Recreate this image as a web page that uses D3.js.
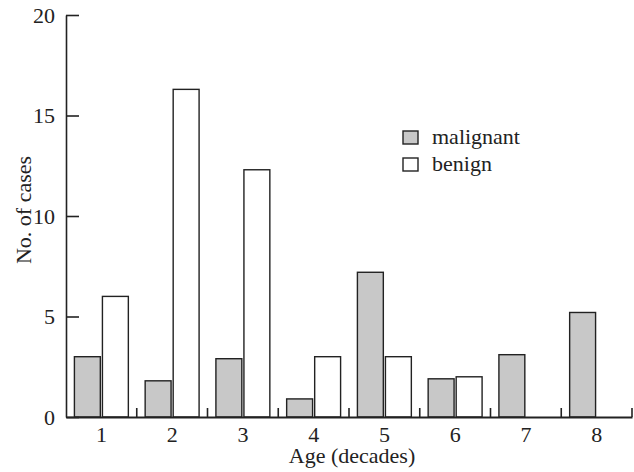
<!DOCTYPE html>
<html>
<head>
<meta charset="utf-8">
<script src="https://cdn.jsdelivr.net/npm/d3@7"></script>
<style>
  html, body { margin: 0; padding: 0; background: #fff; }
</style>
</head>
<body>
<svg id="chart" width="634" height="472"></svg>
<script>
const categories = ["1", "2", "3", "4", "5", "6", "7", "8"];
const malignant = [3, 1.8, 2.9, 0.9, 7.2, 1.9, 3.1, 5.2];
const benign = [6, 16.3, 12.3, 3, 3, 2, 0, 0];
const yTicks = [0, 5, 10, 15, 20];
const seriesNames = ["malignant", "benign"];
const seriesColors = ["#c8c8c8", "#ffffff"];

(function () {
const FONT = '"Liberation Serif"';
const FS = "22px";
const txt = "#222";
const svg = d3.select("#chart");
const mLeft = 66, mRight = 632, mTop = 15, mBottom = 417;

const x = d3.scaleBand().domain(categories).range([mLeft, mRight]).padding(0);
const xInner = d3.scaleBand().domain(seriesNames).range([0, x.bandwidth()]).paddingInner(0.075).paddingOuter(0.3);
const y = d3.scaleLinear().domain([0, 20]).range([mBottom, mTop]);

const stroke = "#222";

// bars
const groups = svg.append("g").selectAll("g").data(categories).join("g")
  .attr("transform", d => `translate(${x(d)},0)`);
groups.selectAll("rect").data((d, i) => [
    {s: "malignant", v: malignant[i], c: seriesColors[0]},
    {s: "benign", v: benign[i], c: seriesColors[1]}
  ]).join("rect")
  .attr("x", d => xInner(d.s))
  .attr("width", xInner.bandwidth())
  .attr("y", d => y(d.v))
  .attr("height", d => y(0) - y(d.v))
  .attr("fill", d => d.c)
  .attr("stroke", stroke)
  .attr("stroke-width", 1.4);

// y axis
const yAxis = d3.axisLeft(y).tickValues(yTicks).tickSizeInner(-13).tickSizeOuter(0).tickPadding(11);
const gy = svg.append("g").attr("transform", `translate(${mLeft},0)`).call(yAxis)
  .attr("font-family", FONT).attr("font-size", FS);
gy.select(".domain").attr("stroke", stroke).attr("stroke-width", 1.6);
gy.selectAll(".tick line").attr("stroke", stroke).attr("stroke-width", 1.6);
gy.selectAll(".tick text").style("font-size", FS).style("font-family", FONT).attr("fill", txt);

// x axis
const xAxis = d3.axisBottom(x).tickSize(0).tickPadding(9);
const gx = svg.append("g").attr("transform", `translate(0,${mBottom})`).call(xAxis)
  .attr("font-family", FONT).attr("font-size", FS);
gx.select(".domain").attr("stroke", stroke).attr("stroke-width", 2);
gx.selectAll(".tick text").style("font-size", FS).style("font-family", FONT).attr("fill", txt);
// separator ticks between groups
const boundaries = categories.slice(1).map(c => x(c)).concat([x(categories[categories.length - 1]) + x.bandwidth()]);
svg.append("g").selectAll("line").data(boundaries).join("line")
  .attr("x1", d => d).attr("x2", d => d)
  .attr("y1", mBottom).attr("y2", mBottom - 9)
  .attr("stroke", stroke).attr("stroke-width", 1.6);

// axis titles
svg.append("text").attr("x", 352).attr("y", 463)
  .attr("text-anchor", "middle").style("font-size", FS).style("font-family", FONT).attr("fill", txt)
  .text("Age (decades)");
svg.append("text").attr("transform", `translate(31,210) rotate(-90)`)
  .attr("text-anchor", "middle").style("font-size", FS).style("font-family", FONT).attr("fill", txt)
  .text("No. of cases");

// legend
const legend = svg.append("g").attr("transform", "translate(403,131)");
seriesNames.forEach((s, i) => {
  const g = legend.append("g").attr("transform", `translate(0,${i * 27})`);
  g.append("rect").attr("width", 15).attr("height", 13).attr("fill", seriesColors[i])
    .attr("stroke", stroke).attr("stroke-width", 1.4);
  g.append("text").attr("x", 29).attr("y", 13).style("font-size", FS).style("font-family", FONT)
    .attr("fill", txt).text(s);
});
})();
</script>
</body>
</html>
